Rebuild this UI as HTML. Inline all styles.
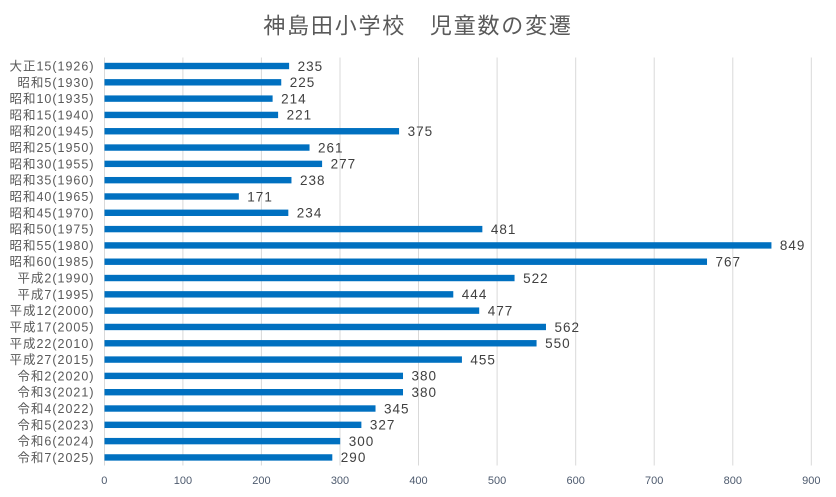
<!DOCTYPE html>
<html>
<head>
<meta charset="utf-8">
<style>
html,body{margin:0;padding:0;background:#fff;}
svg{display:block;}
text{font-family:"Liberation Sans","Noto Sans CJK JP",sans-serif;}
</style>
</head>
<body>
<svg width="836" height="497" viewBox="0 0 836 497" xmlns="http://www.w3.org/2000/svg">
<rect width="836" height="497" fill="#fff"/>
<text x="418" y="33.5" text-anchor="middle" font-size="22" letter-spacing="1.8" fill="#595959">神島田小学校　児童数の変遷</text>
<g stroke="#d9d9d9" stroke-width="1">
<line x1="104.5" y1="57.5" x2="104.5" y2="465.5"/>
<line x1="182.9" y1="57.5" x2="182.9" y2="465.5"/>
<line x1="261.4" y1="57.5" x2="261.4" y2="465.5"/>
<line x1="340" y1="57.5" x2="340" y2="465.5"/>
<line x1="418.5" y1="57.5" x2="418.5" y2="465.5"/>
<line x1="497.1" y1="57.5" x2="497.1" y2="465.5"/>
<line x1="575.7" y1="57.5" x2="575.7" y2="465.5"/>
<line x1="654.2" y1="57.5" x2="654.2" y2="465.5"/>
<line x1="732.8" y1="57.5" x2="732.8" y2="465.5"/>
<line x1="811.3" y1="57.5" x2="811.3" y2="465.5"/>
</g>
<g font-size="11" fill="#4d5a6e" text-anchor="middle">
<text x="104.3" y="484">0</text>
<text x="182.9" y="484">100</text>
<text x="261.4" y="484">200</text>
<text x="340" y="484">300</text>
<text x="418.5" y="484">400</text>
<text x="497.1" y="484">500</text>
<text x="575.7" y="484">600</text>
<text x="654.2" y="484">700</text>
<text x="732.8" y="484">800</text>
<text x="811.3" y="484">900</text>
</g>
<g fill="#0070c0">
<rect x="104.5" y="62.80" width="184.61" height="6.4"/>
<rect x="104.5" y="79.11" width="176.75" height="6.4"/>
<rect x="104.5" y="95.42" width="168.11" height="6.4"/>
<rect x="104.5" y="111.73" width="173.61" height="6.4"/>
<rect x="104.5" y="128.04" width="294.58" height="6.4"/>
<rect x="104.5" y="144.35" width="205.03" height="6.4"/>
<rect x="104.5" y="160.66" width="217.60" height="6.4"/>
<rect x="104.5" y="176.97" width="186.96" height="6.4"/>
<rect x="104.5" y="193.28" width="134.33" height="6.4"/>
<rect x="104.5" y="209.59" width="183.82" height="6.4"/>
<rect x="104.5" y="225.90" width="377.85" height="6.4"/>
<rect x="104.5" y="242.21" width="666.94" height="6.4"/>
<rect x="104.5" y="258.52" width="602.52" height="6.4"/>
<rect x="104.5" y="274.83" width="410.06" height="6.4"/>
<rect x="104.5" y="291.14" width="348.79" height="6.4"/>
<rect x="104.5" y="307.45" width="374.71" height="6.4"/>
<rect x="104.5" y="323.76" width="441.48" height="6.4"/>
<rect x="104.5" y="340.07" width="432.06" height="6.4"/>
<rect x="104.5" y="356.38" width="357.43" height="6.4"/>
<rect x="104.5" y="372.69" width="298.51" height="6.4"/>
<rect x="104.5" y="389.00" width="298.51" height="6.4"/>
<rect x="104.5" y="405.31" width="271.02" height="6.4"/>
<rect x="104.5" y="421.62" width="256.88" height="6.4"/>
<rect x="104.5" y="437.93" width="235.67" height="6.4"/>
<rect x="104.5" y="454.24" width="227.81" height="6.4"/>
</g>
<g font-size="12.5" fill="#595959" text-anchor="end" letter-spacing="1">
<text x="94.5" y="70.50">大正15(1926)</text>
<text x="94.5" y="86.81">昭和5(1930)</text>
<text x="94.5" y="103.12">昭和10(1935)</text>
<text x="94.5" y="119.43">昭和15(1940)</text>
<text x="94.5" y="135.74">昭和20(1945)</text>
<text x="94.5" y="152.05">昭和25(1950)</text>
<text x="94.5" y="168.36">昭和30(1955)</text>
<text x="94.5" y="184.67">昭和35(1960)</text>
<text x="94.5" y="200.98">昭和40(1965)</text>
<text x="94.5" y="217.29">昭和45(1970)</text>
<text x="94.5" y="233.60">昭和50(1975)</text>
<text x="94.5" y="249.91">昭和55(1980)</text>
<text x="94.5" y="266.22">昭和60(1985)</text>
<text x="94.5" y="282.53">平成2(1990)</text>
<text x="94.5" y="298.84">平成7(1995)</text>
<text x="94.5" y="315.15">平成12(2000)</text>
<text x="94.5" y="331.46">平成17(2005)</text>
<text x="94.5" y="347.77">平成22(2010)</text>
<text x="94.5" y="364.08">平成27(2015)</text>
<text x="94.5" y="380.39">令和2(2020)</text>
<text x="94.5" y="396.70">令和3(2021)</text>
<text x="94.5" y="413.01">令和4(2022)</text>
<text x="94.5" y="429.32">令和5(2023)</text>
<text x="94.5" y="445.63">令和6(2024)</text>
<text x="94.5" y="461.94">令和7(2025)</text>
</g>
<g font-size="13.5" fill="#404040" letter-spacing="1">
<text x="297.6" y="70.80">235</text>
<text x="289.75" y="87.11">225</text>
<text x="281.1" y="103.42">214</text>
<text x="286.6" y="119.73">221</text>
<text x="407.6" y="136.04">375</text>
<text x="318.0" y="152.35">261</text>
<text x="330.6" y="168.66">277</text>
<text x="300.0" y="184.97">238</text>
<text x="247.3" y="201.28">171</text>
<text x="296.8" y="217.59">234</text>
<text x="490.9" y="233.90">481</text>
<text x="779.9" y="250.21">849</text>
<text x="715.5" y="266.52">767</text>
<text x="523.1" y="282.83">522</text>
<text x="461.8" y="299.14">444</text>
<text x="487.7" y="315.45">477</text>
<text x="554.5" y="331.76">562</text>
<text x="545.1" y="348.07">550</text>
<text x="470.4" y="364.38">455</text>
<text x="411.5" y="380.69">380</text>
<text x="411.5" y="397.00">380</text>
<text x="384.0" y="413.31">345</text>
<text x="369.9" y="429.62">327</text>
<text x="348.7" y="445.93">300</text>
<text x="340.8" y="462.24">290</text>
</g>
</svg>
</body>
</html>
